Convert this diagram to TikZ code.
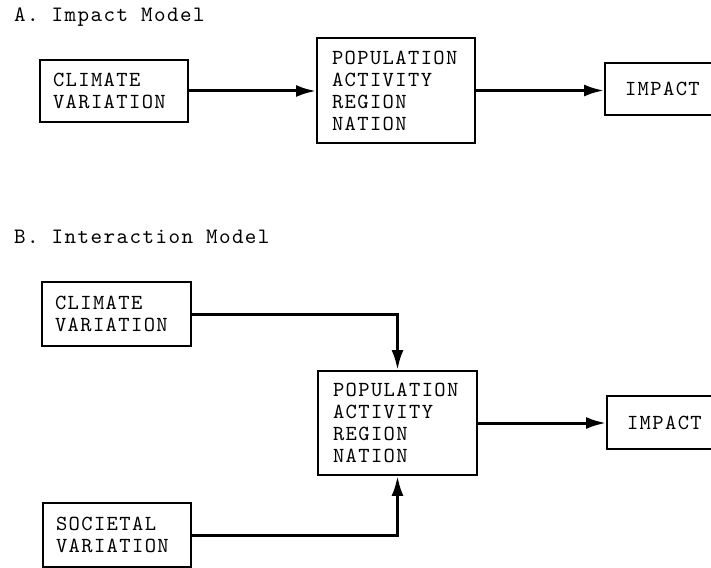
\documentclass[tikz,border=0pt]{standalone}
\usepackage{fontspec}
\newfontfamily\boxfont{lmmono10-regular.otf}[LetterSpace=6.5]
\usetikzlibrary{arrows.meta}
\begin{document}
\begin{tikzpicture}[x=1pt,y=-1pt,
  box/.style={draw, line width=1.9pt, align=left, anchor=center,
    font=\boxfont\fontsize{21.5}{22}\selectfont, inner ysep=0pt},
  title/.style={font=\boxfont\fontsize{22}{22}\selectfont, anchor=west, inner sep=0pt},
  conn/.style={line width=3pt, -{Latex[length=20pt,width=12pt]}}]
\useasboundingbox (0,0) rectangle (711,567);
% Part A
\node[title] (ta) at (14,17) {A. Impact Model};
\node[box, minimum width=148pt, minimum height=62pt, inner xsep=13pt, text width=122pt] (aclim) at (114,91) {CLIMATE\\VARIATION};
\node[box, minimum width=158pt, minimum height=105pt, inner xsep=15pt, text width=128pt] (apop) at (396,90.5) {POPULATION\\ACTIVITY\\REGION\\NATION};
\node[box, minimum width=120pt, minimum height=52pt, inner xsep=20pt, text width=80pt] (aimp) at (665,89) {IMPACT};
\draw[conn] (aclim.east) -- (aclim.east -| apop.west);
\draw[conn] (apop.east) -- (apop.east -| aimp.west);
% Part B
\node[title] (tb) at (14,237) {B. Interaction Model};
\node[box, minimum width=149pt, minimum height=64pt, inner xsep=13pt, text width=123pt] (bclim) at (116.5,314) {CLIMATE\\VARIATION};
\node[box, minimum width=159pt, minimum height=104pt, inner xsep=15pt, text width=129pt] (bpop) at (397.5,423) {POPULATION\\ACTIVITY\\REGION\\NATION};
\node[box, minimum width=120pt, minimum height=53pt, inner xsep=20pt, text width=80pt] (bimp) at (667,422.5) {IMPACT};
\node[box, minimum width=148pt, minimum height=64pt, inner xsep=13pt, text width=122pt] (bsoc) at (117,535) {SOCIETAL\\VARIATION};
\draw[conn] (bclim.east) -| (bpop.north);
\draw[conn] (bsoc.east) -| (bpop.south);
\draw[conn] (bpop.east) -- (bpop.east -| bimp.west);
\end{tikzpicture}
\end{document}
